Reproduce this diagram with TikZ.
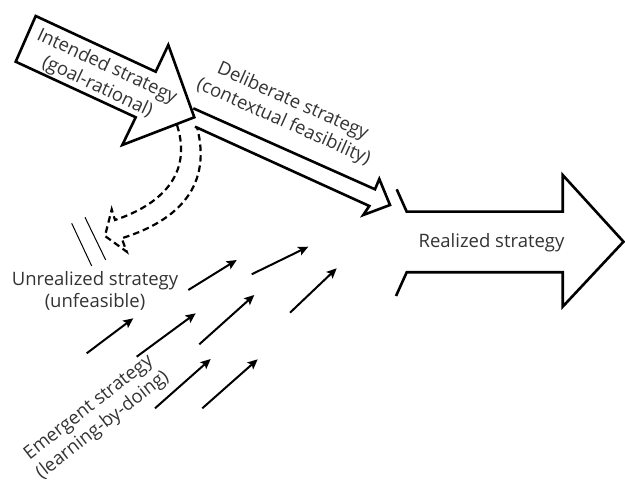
\documentclass[tikz,border=0pt]{standalone}
\usepackage{fontspec}
\setmainfont{Open Sans}
\usetikzlibrary{arrows.meta}
\begin{document}
\begin{tikzpicture}[x=1pt,y=-1pt,
  outline/.style={draw=black,line width=2.6pt,fill=white},
  rail/.style={draw=black,line width=2.6pt},
  flow/.style={draw=black,line width=2.2pt,dash pattern=on 6.5pt off 4pt},
  sprout/.style={draw=black,line width=2pt,-{Stealth[length=10pt,width=9pt,inset=2pt]}},
  barrier/.style={draw=black,line width=1pt},
  caption/.style={text=black!80,font=\fontsize{18.5}{22.5}\selectfont,align=center,inner sep=0pt}]
\useasboundingbox (0,0) rectangle (625,486);

% unrealized branch: hollow dashed arrow bending back to the left
\draw[flow] (177,125) .. controls (193,175) and (160,205) .. (115,220)
  -- (111.7,209.3) -- (105,236) -- (126.7,251.7) -- (121.7,238.3)
  .. controls (180,220) and (212,185) .. (197,127);

% blocking strokes
\draw[barrier] (71.7,223.3) -- (91.7,266);
\draw[barrier] (85,217.3) -- (105.7,260);

% deliberate strategy: open double-line arrow
\draw[rail] (193.3,108.3) -- (375,189.3) -- (379.3,179) -- (390,205)
  -- (363.3,215) -- (369.3,206) -- (195,126.7);

% intended strategy: block arrow
\draw[outline] (35.7,16) -- (155.7,71.7) -- (168.3,45) -- (194.3,117.3)
  -- (122.3,145) -- (135.7,117.3) -- (15.7,61.7) -- cycle;

% realized strategy: open block arrow
\draw[rail] (396.7,189.3) -- (406.7,211.7) -- (562.7,211.7) -- (562.7,175)
  -- (623.5,241.7) -- (562.7,306.7) -- (562.7,272.3) -- (406.7,272.3) -- (396,296);

% emergent strategy: scattered small arrows
\draw[sprout] (188.3,290) -- (236.7,260);
\draw[sprout] (251.7,274.3) -- (308.3,246.7);
\draw[sprout] (86.7,353.3) -- (133.3,318.3);
\draw[sprout] (136.7,356.7) -- (195.7,313.3);
\draw[sprout] (199.3,344.3) -- (254.3,295);
\draw[sprout] (290,312.7) -- (336.7,268.3);
\draw[sprout] (155,408.3) -- (210.7,359);
\draw[sprout] (202.3,408.3) -- (257.7,359.3);

% labels
\node[caption,rotate=-25] (intended) at (102,77) {Intended strategy\\(goal-rational)};
\node[caption,rotate=-24] (deliberate) at (288,112) {Deliberate strategy\\(contextual feasibility)};
\node[caption] (unrealized) at (95,291) {Unrealized strategy\\(unfeasible)};
\node[caption] (realized) at (491.5,243) {Realized strategy};
\node[caption,rotate=38] (emergent) at (96,417) {Emergent strategy\\(learning-by-doing)};
\end{tikzpicture}
\end{document}
